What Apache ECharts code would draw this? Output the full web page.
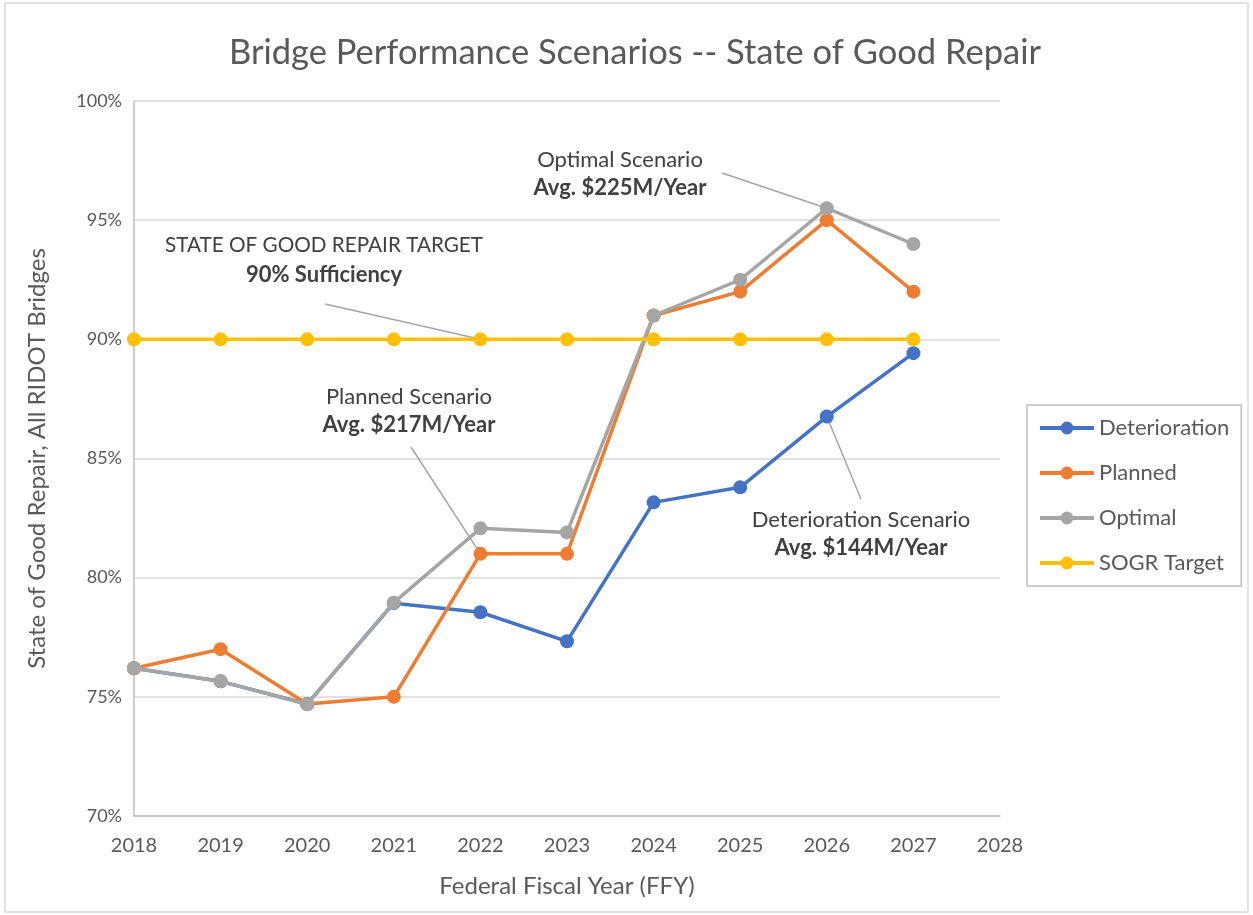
<!DOCTYPE html>
<html>
<head>
<meta charset="utf-8">
<title>Bridge Performance Scenarios</title>
<script src="https://cdn.jsdelivr.net/npm/echarts@6/dist/echarts.min.js"></script>
<style>
  html, body { margin: 0; padding: 0; background: #ffffff; }
  #chart { width: 1253px; height: 915px; }
</style>
</head>
<body>
<div id="chart"></div>
<script>
// Federal fiscal years on the x axis
const years = [2018, 2019, 2020, 2021, 2022, 2023, 2024, 2025, 2026, 2027];

// Share of RIDOT bridges in a state of good repair (%)
const deterioration = [76.2, 75.65, 74.7, 78.93, 78.55, 77.33, 83.16, 83.79, 86.76, 89.42];
const planned       = [76.2, 77.0, 74.7, 75.0, 81.0, 81.0, 91.0, 92.0, 95.0, 92.0];
const optimal       = [76.2, 75.65, 74.7, 78.95, 82.07, 81.9, 91.0, 92.5, 95.5, 94.0];
const sogrTarget    = [90, 90, 90, 90, 90, 90, 90, 90, 90, 90];

const seriesNames = ['Deterioration', 'Planned', 'Optimal', 'SOGR Target'];
const seriesColors = ['#4472C4', '#ED7D31', '#A5A5A5', '#FFC000'];
const seriesValues = [deterioration, planned, optimal, sogrTarget];

// Axis ticks
const yTicks = { min: 70, max: 100, step: 5 };
const xTicks = { min: 2018, max: 2028, step: 1 };

// Callout texts: heading, bold line, and the series/year they point at
const callouts = [
  { head: 'Optimal Scenario', bold: 'Avg. $225M/Year', series: 2, year: 2026 },
  { head: 'STATE OF GOOD REPAIR TARGET', bold: '90% Sufficiency', series: 3, year: 2022 },
  { head: 'Planned Scenario', bold: 'Avg. $217M/Year', series: 1, year: 2022 },
  { head: 'Deterioration Scenario', bold: 'Avg. $144M/Year', series: 0, year: 2026 }
];

// Where each callout's text sits and where its leader line starts (px)
const calloutLayout = [
  { cx: 620, y1: 160, y2: 188, size: 22, from: [722, 173] },
  { cx: 324, y1: 245, y2: 275, size: 20.7, from: [325, 304] },
  { cx: 409, y1: 397, y2: 425, size: 22, from: [411, 447] },
  { cx: 861, y1: 520, y2: 548, size: 22, from: [861, 499] }
];

const FONT = 'Lato, "Open Sans", sans-serif';
const chart = echarts.init(document.getElementById('chart'), null, { renderer: 'canvas' });

const series = seriesNames.map((name, i) => ({
  name,
  type: 'line',
  data: years.map((y, k) => [y, seriesValues[i][k]]),
  symbol: 'circle',
  symbolSize: 14,
  showAllSymbol: true,
  lineStyle: { width: 3.5, color: seriesColors[i] },
  itemStyle: { color: seriesColors[i] },
  z: 2 + i,
  animation: false
}));

chart.setOption({
  animation: false,
  backgroundColor: '#ffffff',
  title: {
    text: 'Bridge Performance Scenarios -- State of Good Repair',
    left: 630,
    textAlign: 'center',
    top: 30,
    textStyle: { fontFamily: FONT, fontSize: 34.5, fontWeight: 'normal', color: '#595959' }
  },
  grid: { left: 134, right: 253, top: 101, bottom: 99 },
  legend: {
    orient: 'vertical',
    left: 1027,
    top: 405,
    padding: [12, 12, 12, 11],
    itemGap: 23,
    itemWidth: 54,
    itemHeight: 16,
    borderColor: '#bfbfbf',
    borderWidth: 1.5,
    lineStyle: { width: 4 },
    textStyle: { fontFamily: FONT, fontSize: 22, color: '#595959' },
    data: seriesNames
  },
  xAxis: {
    type: 'value',
    min: xTicks.min,
    max: xTicks.max,
    interval: xTicks.step,
    name: 'Federal Fiscal Year (FFY)',
    nameLocation: 'middle',
    nameGap: 58,
    nameTextStyle: { fontFamily: FONT, fontSize: 24, color: '#595959' },
    axisLine: { show: true, lineStyle: { color: '#bfbfbf', width: 1.5 } },
    axisTick: { show: false },
    splitLine: { show: false },
    axisLabel: {
      fontFamily: FONT, fontSize: 20, color: '#595959', margin: 20,
      formatter: v => String(v)
    }
  },
  yAxis: {
    type: 'value',
    min: yTicks.min,
    max: yTicks.max,
    interval: yTicks.step,
    name: 'State of Good Repair, All RIDOT Bridges',
    nameLocation: 'middle',
    nameGap: 85,
    nameTextStyle: { fontFamily: FONT, fontSize: 24, color: '#595959' },
    axisLine: { show: true, lineStyle: { color: '#bfbfbf', width: 1.5 } },
    axisTick: { show: false },
    splitLine: { show: true, lineStyle: { color: '#d9d9d9', width: 1.5 } },
    axisLabel: {
      fontFamily: FONT, fontSize: 18, color: '#595959', margin: 12,
      formatter: '{value}%'
    }
  },
  series
});

// Callouts: two lines of text plus a thin leader line to the data point
const graphics = [{
  type: 'rect',
  shape: { x: 5, y: 3, width: 1243, height: 909 },
  style: { fill: null, stroke: '#d9d9d9', lineWidth: 1.5 },
  silent: true,
  z: -10
}];
callouts.forEach((c, i) => {
  const L = calloutLayout[i];
  const k = years.indexOf(c.year);
  const pt = chart.convertToPixel({ gridIndex: 0 }, [c.year, seriesValues[c.series][k]]);
  graphics.push({
    type: 'line',
    shape: { x1: L.from[0], y1: L.from[1], x2: pt[0], y2: pt[1] },
    style: { stroke: '#a5a5a5', lineWidth: 1.5 },
    silent: true,
    z: 1
  });
  graphics.push({
    type: 'text',
    x: L.cx, y: L.y1,
    style: { text: c.head, font: L.size + 'px ' + FONT, fill: '#404040', align: 'center', verticalAlign: 'middle' },
    silent: true,
    z: 20
  });
  graphics.push({
    type: 'text',
    x: L.cx, y: L.y2,
    style: { text: c.bold, font: 'bold 22px ' + FONT, fill: '#404040', align: 'center', verticalAlign: 'middle' },
    silent: true,
    z: 20
  });
});
chart.setOption({ graphic: graphics });
</script>
</body>
</html>
